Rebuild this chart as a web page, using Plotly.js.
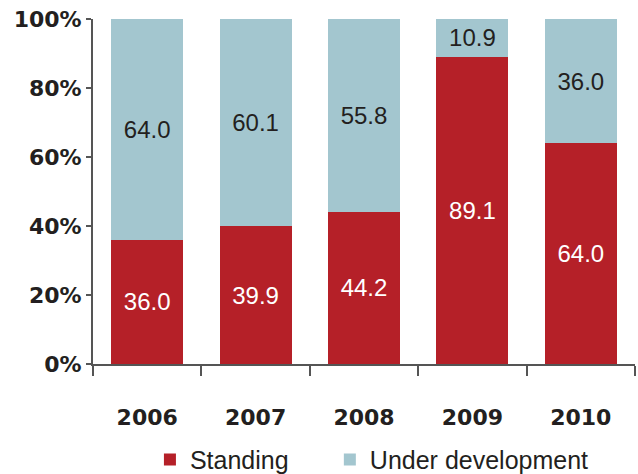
<!DOCTYPE html>
<html><head><meta charset="utf-8">
<script src="https://cdn.plot.ly/plotly-3.0.1.min.js"></script>
<style>body{margin:0;background:#fff}#chart{width:638px;height:474px}</style>
</head><body><div id="chart"></div>
<script>
const years = ['2006', '2007', '2008', '2009', '2010'];
const standing = [36.0, 39.9, 44.2, 89.1, 64.0];
const underDevelopment = [64.0, 60.1, 55.8, 10.9, 36.0];
const yTicks = [0, 20, 40, 60, 80, 100];
const yTickText = ['0%', '20%', '40%', '60%', '80%', '100%'];

const txt = '#231f20';
const legendFont = {family:'Liberation Sans, Arial, sans-serif', size:25, color:txt};
const traces = [
  {type:'bar', name:'Standing', x:years, y:standing, marker:{color:'#b52028'}, legend:'legend',
   texttemplate:'%{y:.1f}', textposition:'inside', insidetextanchor:'middle', textangle:0,
   constraintext:'none', insidetextfont:{family:'Liberation Sans, Arial, sans-serif', size:24, color:'#ffffff'},
   hoverinfo:'none'},
  {type:'bar', name:'Under development', x:years, y:underDevelopment, marker:{color:'#a3c6cf'}, legend:'legend2',
   texttemplate:'%{y:.1f}', textposition:'inside', insidetextanchor:'middle', textangle:0,
   constraintext:'none', insidetextfont:{family:'Liberation Sans, Arial, sans-serif', size:24, color:txt},
   hoverinfo:'none'}
];
const layout = {
  width:638, height:474, barmode:'stack', bargap:0.335,
  margin:{l:93, r:3, t:19, b:110}, paper_bgcolor:'#fff', plot_bgcolor:'#fff',
  showlegend:true,
  legend:{orientation:'h', xref:'container', yref:'container', x:0.235, xanchor:'left', y:0.03, yanchor:'middle',
    font:legendFont, itemwidth:30},
  legend2:{orientation:'h', xref:'container', yref:'container', x:0.517, xanchor:'left', y:0.03, yanchor:'middle',
    font:legendFont, itemwidth:30},
  xaxis:{type:'category', showline:true, linecolor:'#555', linewidth:2, ticks:'outside', ticklen:10,
    tickcolor:'#555', tickwidth:2, tickson:'boundaries', showgrid:false, zeroline:false,
    ticklabelstandoff:33,
    tickfont:{family:'DejaVu Sans, sans-serif', size:22, color:txt, weight:'bold'}},
  yaxis:{range:[0,100], tickmode:'array', tickvals:yTicks, ticktext:yTickText, showline:true, linecolor:'#555', linewidth:2,
    ticks:'outside', ticklen:5, tickcolor:'#555', tickwidth:2, showgrid:false, zeroline:false,
    tickfont:{family:'DejaVu Sans, sans-serif', size:22, color:txt, weight:'bold'}}
};
Plotly.newPlot('chart', traces, layout, {displayModeBar:false, staticPlot:true});
</script></body></html>
